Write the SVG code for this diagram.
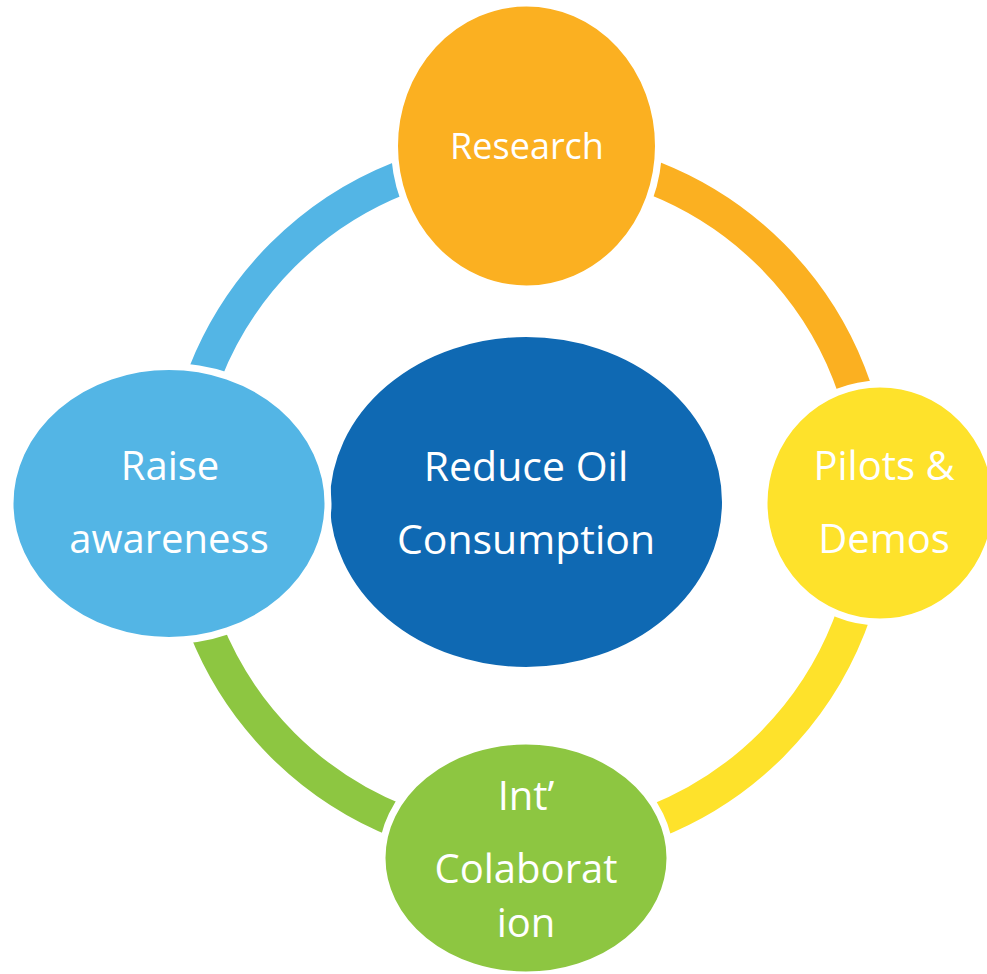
<svg xmlns="http://www.w3.org/2000/svg" width="987" height="974" viewBox="0 0 987 974">
<style>
.arc{fill:none;stroke-width:34;stroke-linecap:butt}
.node{stroke:#ffffff;stroke-width:7}
.lbl{font-family:"Open Sans","Noto Sans","DejaVu Sans",sans-serif;fill:#ffffff;text-anchor:middle}
</style>
<rect width="987" height="974" fill="#ffffff"/>
<g id="connectors">
<path class="arc" stroke="#FBB021" d="M527,154 A346,346 0 0 1 873,500"/>
<path class="arc" stroke="#FEE22B" d="M873,500 A346,346 0 0 1 527,846"/>
<path class="arc" stroke="#8DC641" d="M527,846 A346,346 0 0 1 181,500"/>
<path class="arc" stroke="#53B5E5" d="M181,500 A346,346 0 0 1 527,154"/>
</g>
<g id="center">
<ellipse class="node" cx="526" cy="502" rx="199.5" ry="168.5" fill="#0F69B3"/>
<text class="lbl" x="526" y="481" font-size="41">Reduce Oil</text>
<text class="lbl" x="526" y="554" font-size="41">Consumption</text>
</g>
<g id="research">
<ellipse class="node" cx="526.5" cy="146" rx="132" ry="143" fill="#FBB021"/>
<text class="lbl" x="527" y="159" font-size="36">Research</text>
</g>
<g id="pilots">
<ellipse class="node" cx="880" cy="503" rx="116" ry="119" fill="#FEE22B"/>
<text class="lbl" x="884" y="480" font-size="40">Pilots &amp;</text>
<text class="lbl" x="884" y="553" font-size="40">Demos</text>
</g>
<g id="collaboration">
<ellipse class="node" cx="526" cy="858" rx="144" ry="117" fill="#8DC641"/>
<text class="lbl" x="526" y="810" font-size="40">Int’</text>
<text class="lbl" x="526" y="883" font-size="40">Colaborat</text>
<text class="lbl" x="526" y="937" font-size="40">ion</text>
</g>
<g id="awareness">
<ellipse class="node" cx="169" cy="503.5" rx="159" ry="137" fill="#53B5E5"/>
<text class="lbl" x="170" y="480" font-size="40">Raise</text>
<text class="lbl" x="169" y="553" font-size="40">awareness</text>
</g>
</svg>
